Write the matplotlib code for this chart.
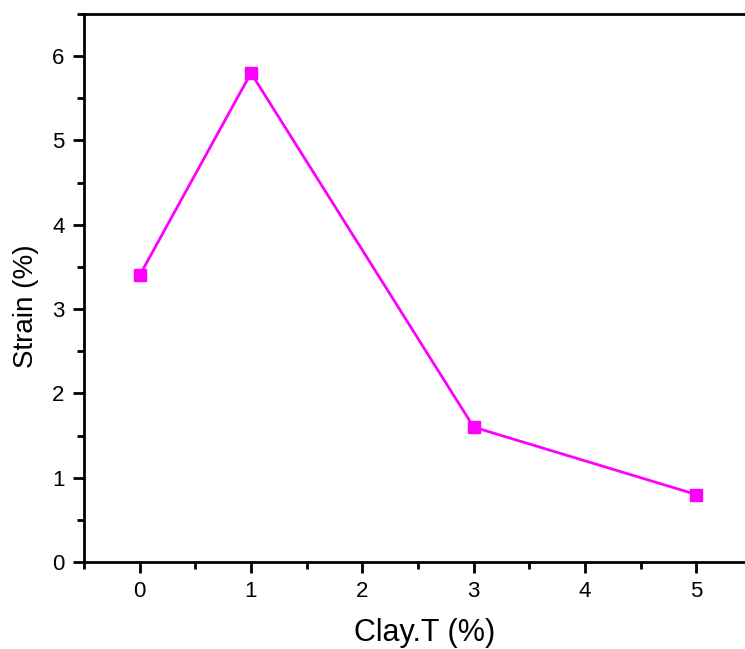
import matplotlib
matplotlib.use("Agg")
import matplotlib.pyplot as plt
from matplotlib.ticker import MultipleLocator

clay_content = [0, 1, 3, 5]
strain = [3.4, 5.8, 1.6, 0.8]
x_ticks = [0, 1, 2, 3, 4, 5]
y_ticks = [0, 1, 2, 3, 4, 5, 6]

plt.rcParams["font.family"] = ["Liberation Sans", "DejaVu Sans"]

fig = plt.figure(figsize=(7.45, 6.49), dpi=100)
ax = fig.add_axes([84 / 745, 1 - 562 / 649, (752 - 84) / 745, (562 - 14) / 649])

ax.plot(clay_content, strain, color="#ff00ff", linewidth=2.0,
        marker="s", markersize=8.5, markerfacecolor="#ff00ff",
        markeredgecolor="#ff00ff")

ax.set_xlim(-0.5, 5.5)
ax.set_ylim(0, 6.5)
ax.set_xticks(x_ticks)
ax.set_yticks(y_ticks)
ax.xaxis.set_minor_locator(MultipleLocator(0.5))
ax.yaxis.set_minor_locator(MultipleLocator(0.5))

for side in ["left", "bottom", "top", "right"]:
    ax.spines[side].set_linewidth(2.0)

ax.tick_params(axis="both", which="major", direction="out", length=8,
               width=2.0, labelsize=16, pad=6)
ax.tick_params(axis="both", which="minor", direction="out", length=5,
               width=2.0)
ax.tick_params(top=False, right=False, which="both")

ax.set_xlabel("Clay.T (%)", fontsize=22)
ax.set_ylabel("Strain (%)", fontsize=20)
ax.xaxis.set_label_coords(0.51, -0.102)
ax.yaxis.set_label_coords(-0.068, 0.467)

fig.savefig("out.png", dpi=100)
